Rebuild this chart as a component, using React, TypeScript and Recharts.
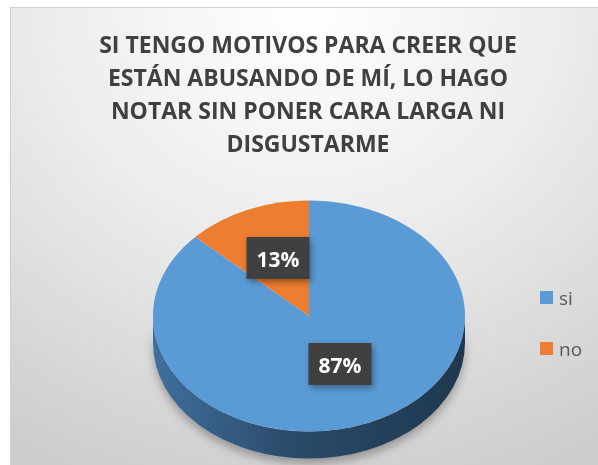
import { Legend, Pie, PieChart } from 'recharts';

const categories = ['si', 'no'];
const values = [87, 13];
const colors = ['#5b9bd5', '#ed7d31'];
const titleLines = [
  'SI TENGO MOTIVOS PARA CREER QUE',
  'ESTÁN ABUSANDO DE MÍ, LO HAGO',
  'NOTAR SIN PONER CARA LARGA NI',
  'DISGUSTARME',
];

const data = categories.map((name, i) => ({ name, value: values[i], fill: colors[i] }));

// the pie is flattened to an ellipse to mimic Excel's 3D pie
const SQUASH = 0.74;
const DEPTH = 27;
const RAD = Math.PI / 180;

const pt = (cx: number, cy: number, rx: number, ry: number, a: number, dy = 0) =>
  `${cx + rx * Math.cos(a * RAD)},${cy - ry * Math.sin(a * RAD) + dy}`;

function Sector3D(props: any) {
  const { cx, cy, outerRadius, startAngle, endAngle, fill, index } = props;
  const rx = outerRadius;
  const ry = outerRadius * SQUASH;
  const hi = Math.max(startAngle, endAngle);
  const lo = Math.min(startAngle, endAngle);
  const large = hi - lo > 180 ? 1 : 0;

  // front wall: part of the sector range that lies in the lower half
  const walls: Array<[number, number]> = [];
  for (let k = -2; k <= 1; k++) {
    const a = Math.min(hi, 360 * k);
    const b = Math.max(lo, 360 * k - 180);
    if (a > b) walls.push([a, b]);
  }

  return (
    <g>
      {walls.map(([a, b], i) => (
        <path
          key={i}
          d={`M${pt(cx, cy, rx, ry, a)} A${rx},${ry} 0 0 1 ${pt(cx, cy, rx, ry, b)} L${pt(cx, cy, rx, ry, b, DEPTH)} A${rx},${ry} 0 0 0 ${pt(cx, cy, rx, ry, a, DEPTH)} Z`}
          fill={`url(#wall-${index})`}
          style={{ filter: 'drop-shadow(0px 5px 5px rgba(0,0,0,0.3))' }}
        />
      ))}
      <path
        d={`M${cx},${cy} L${pt(cx, cy, rx, ry, startAngle)} A${rx},${ry} 0 ${large} 1 ${pt(cx, cy, rx, ry, endAngle)} Z`}
        fill={fill}
      />
    </g>
  );
}

function BoxLabel(props: any) {
  const { cx, cy, outerRadius, midAngle, percent } = props;
  const x = cx + outerRadius * 0.5 * Math.cos(midAngle * RAD);
  const y = cy - outerRadius * SQUASH * 0.5 * Math.sin(midAngle * RAD) - 5;
  const w = 63;
  const h = 42;
  return (
    <g>
      <rect
        x={x - w / 2}
        y={y - h / 2}
        width={w}
        height={h}
        fill="#404040"
        style={{ filter: 'drop-shadow(2px 3px 3px rgba(0,0,0,0.35))' }}
      />
      <text
        x={x}
        y={y + 1}
        textAnchor="middle"
        dominantBaseline="central"
        fill="#ffffff"
        fontFamily="'Open Sans', sans-serif"
        fontWeight={700}
        fontSize={21}
      >
        {`${Math.round(percent * 100)}%`}
      </text>
    </g>
  );
}

function LegendBox() {
  return (
    <div style={{ fontFamily: "'Open Sans', sans-serif", fontSize: 19, color: '#595959' }}>
      {data.map((entry) => (
        <div key={entry.name} style={{ display: 'flex', alignItems: 'center', height: 51 }}>
          <div style={{ width: 13, height: 13, background: entry.fill, marginRight: 6 }} />
          <span>{entry.name}</span>
        </div>
      ))}
    </div>
  );
}

export default function App() {
  return (
    <div style={{ position: 'fixed', left: 0, top: 0, width: 598, height: 465, background: '#ffffff' }}>
      <div
        style={{
          position: 'absolute',
          left: 10,
          top: 7,
          width: 588,
          height: 458,
          boxSizing: 'border-box',
          borderLeft: '1px solid #d0d0d0',
          borderTop: '1px solid #d0d0d0',
          background: 'radial-gradient(ellipse 95% 110% at 50% 0%, #ffffff 0%, #ededed 45%, #cdcdcd 100%)',
        }}
      >
        <div
          style={{
            position: 'absolute',
            left: 0,
            top: 20,
            width: 594,
            textAlign: 'center',
            fontFamily: "'Open Sans', sans-serif",
            fontWeight: 700,
            fontSize: 23,
            lineHeight: '33px',
            color: '#404040',
          }}
        >
          {titleLines.map((line) => (
            <div key={line}>{line}</div>
          ))}
        </div>
        <PieChart
          width={588}
          height={458}
          margin={{ top: 0, right: 0, bottom: 0, left: 0 }}
          style={{ position: 'absolute', left: 0, top: 0 }}
        >
          <defs>
            <linearGradient id="wall-0" x1="0" y1="0" x2="1" y2="0">
              <stop offset="0%" stopColor="#3f6f9d" />
              <stop offset="45%" stopColor="#2a4a69" />
              <stop offset="100%" stopColor="#1f384f" />
            </linearGradient>
            <linearGradient id="wall-1" x1="0" y1="0" x2="1" y2="0">
              <stop offset="0%" stopColor="#b05a20" />
              <stop offset="100%" stopColor="#7a3e16" />
            </linearGradient>
          </defs>
          <Pie
            data={data}
            dataKey="value"
            nameKey="name"
            cx={298}
            cy={308}
            outerRadius={156}
            startAngle={90}
            endAngle={-270}
            stroke="none"
            shape={Sector3D}
            label={BoxLabel}
            labelLine={false}
            isAnimationActive={false}
          />
          <Legend
            layout="vertical"
            align="right"
            verticalAlign="middle"
            content={LegendBox}
            wrapperStyle={{ left: 529, top: 264, width: 60 }}
          />
        </PieChart>
      </div>
    </div>
  );
}
